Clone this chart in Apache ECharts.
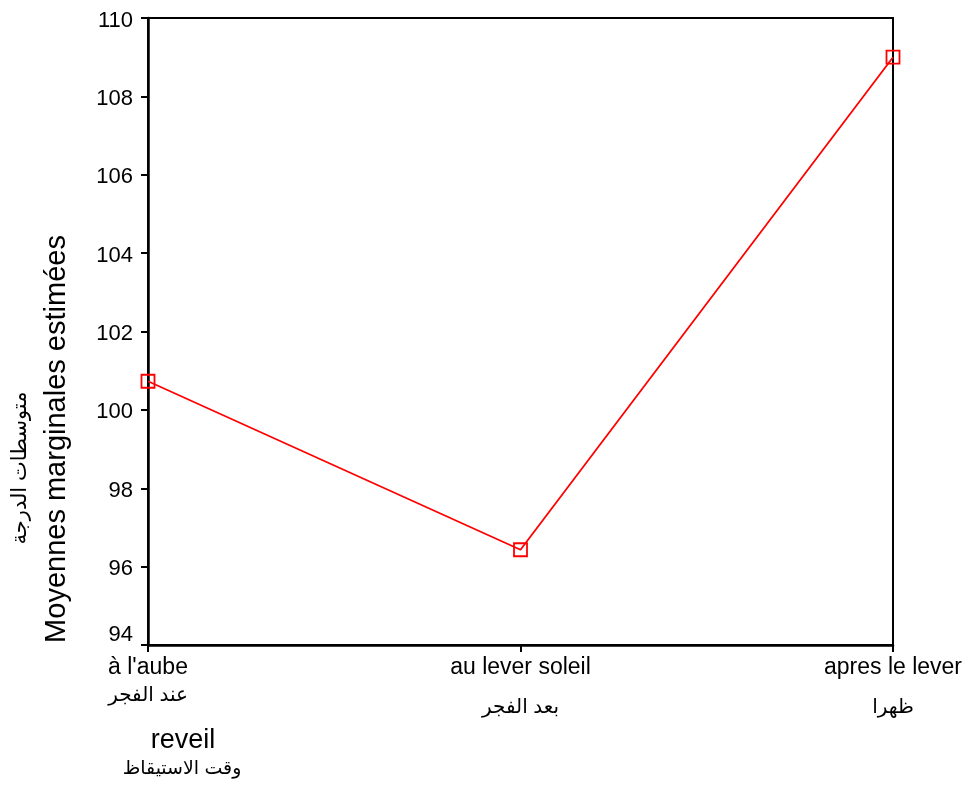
<!DOCTYPE html>
<html><head><meta charset="utf-8">
<script src="https://cdn.jsdelivr.net/npm/echarts@6/dist/echarts.min.js"></script>
<style>html,body{margin:0;padding:0;background:#fff}#c{width:972px;height:787px}</style>
</head><body><div id="c"></div>
<script>
var categoriesFr = ["à l'aube", "au lever soleil", "apres le lever"];
var categoriesAr = ["عند الفجر", "بعد الفجر", "ظهرا"];
var values = [100.73, 96.43, 109.0];
var yTicks = { min: 94, max: 110, interval: 2 };
var xTitleFr = "reveil", xTitleAr = "وقت الاستيقاظ";
var yTitleFr = "Moyennes marginales estimées", yTitleAr = "متوسطات الدرجة";

var FONT = "'Liberation Sans', Arial, 'DejaVu Sans', sans-serif";
var chart = echarts.init(document.getElementById('c'));
chart.setOption({
  animation: false,
  backgroundColor: '#fff',
  grid: { left: 148, top: 18, right: 79, bottom: 142, show: true, borderColor: '#000', borderWidth: 2, backgroundColor: 'transparent' },
  xAxis: {
    type: 'category', boundaryGap: false,
    data: categoriesFr,
    axisLine: { lineStyle: { color: '#000', width: 2.5 } },
    axisTick: { show: true, length: 7, lineStyle: { color: '#000', width: 2 }, alignWithLabel: true },
    axisLabel: {
      color: '#000', fontFamily: FONT, margin: 10, interval: 0,
      formatter: function (v, i) { return '{a|' + v + '}\n{' + (i === 0 ? 'b0' : 'b') + '|' + categoriesAr[i] + '}'; },
      rich: {
        a: { fontSize: 23, lineHeight: 26, fontFamily: FONT, color: '#000' },
        b0: { fontSize: 20, lineHeight: 28, fontFamily: FONT, color: '#000' },
        b: { fontSize: 20, lineHeight: 52, fontFamily: FONT, color: '#000' }
      }
    },
    splitLine: { show: false }
  },
  yAxis: {
    type: 'value', min: yTicks.min, max: yTicks.max, interval: yTicks.interval,
    axisLine: { show: true, lineStyle: { color: '#000', width: 2.5 } },
    axisTick: { show: true, length: 7, lineStyle: { color: '#000', width: 2 } },
    axisLabel: {
      color: '#000', fontSize: 22, fontFamily: FONT, margin: 15,
      formatter: function (v) { return v === yTicks.min ? '{m|' + v + '}' : '{n|' + v + '}'; },
      rich: {
        n: { fontSize: 22, fontFamily: FONT, color: '#000', padding: [5, 0, 0, 0] },
        m: { fontSize: 22, fontFamily: FONT, color: '#000', padding: [0, 0, 20, 0] }
      }
    },
    splitLine: { show: false }
  },
  series: [{
    type: 'line', data: values,
    symbol: 'rect', symbolSize: 13,
    lineStyle: { color: '#ff0000', width: 1.8 },
    itemStyle: { color: 'rgba(255,255,255,0)', borderColor: '#ff0000', borderWidth: 1.8 },
    z: 5
  }],
  graphic: [
    { type: 'text', x: 183, y: 741, style: { text: xTitleFr, fill: '#000', fontSize: 27, fontFamily: FONT, align: 'center', verticalAlign: 'middle' } },
    { type: 'text', x: 182, y: 769, style: { text: xTitleAr, fill: '#000', fontSize: 19, fontFamily: FONT, align: 'center', verticalAlign: 'middle' } },
    { type: 'text', x: 57, y: 439, rotation: Math.PI / 2, style: { text: yTitleFr, fill: '#000', fontSize: 29, fontFamily: FONT, align: 'center', verticalAlign: 'middle' } },
    { type: 'text', x: 20, y: 468, rotation: Math.PI / 2, style: { text: yTitleAr, fill: '#000', fontSize: 21, fontFamily: FONT, align: 'center', verticalAlign: 'middle' } }
  ]
});
</script></body></html>
